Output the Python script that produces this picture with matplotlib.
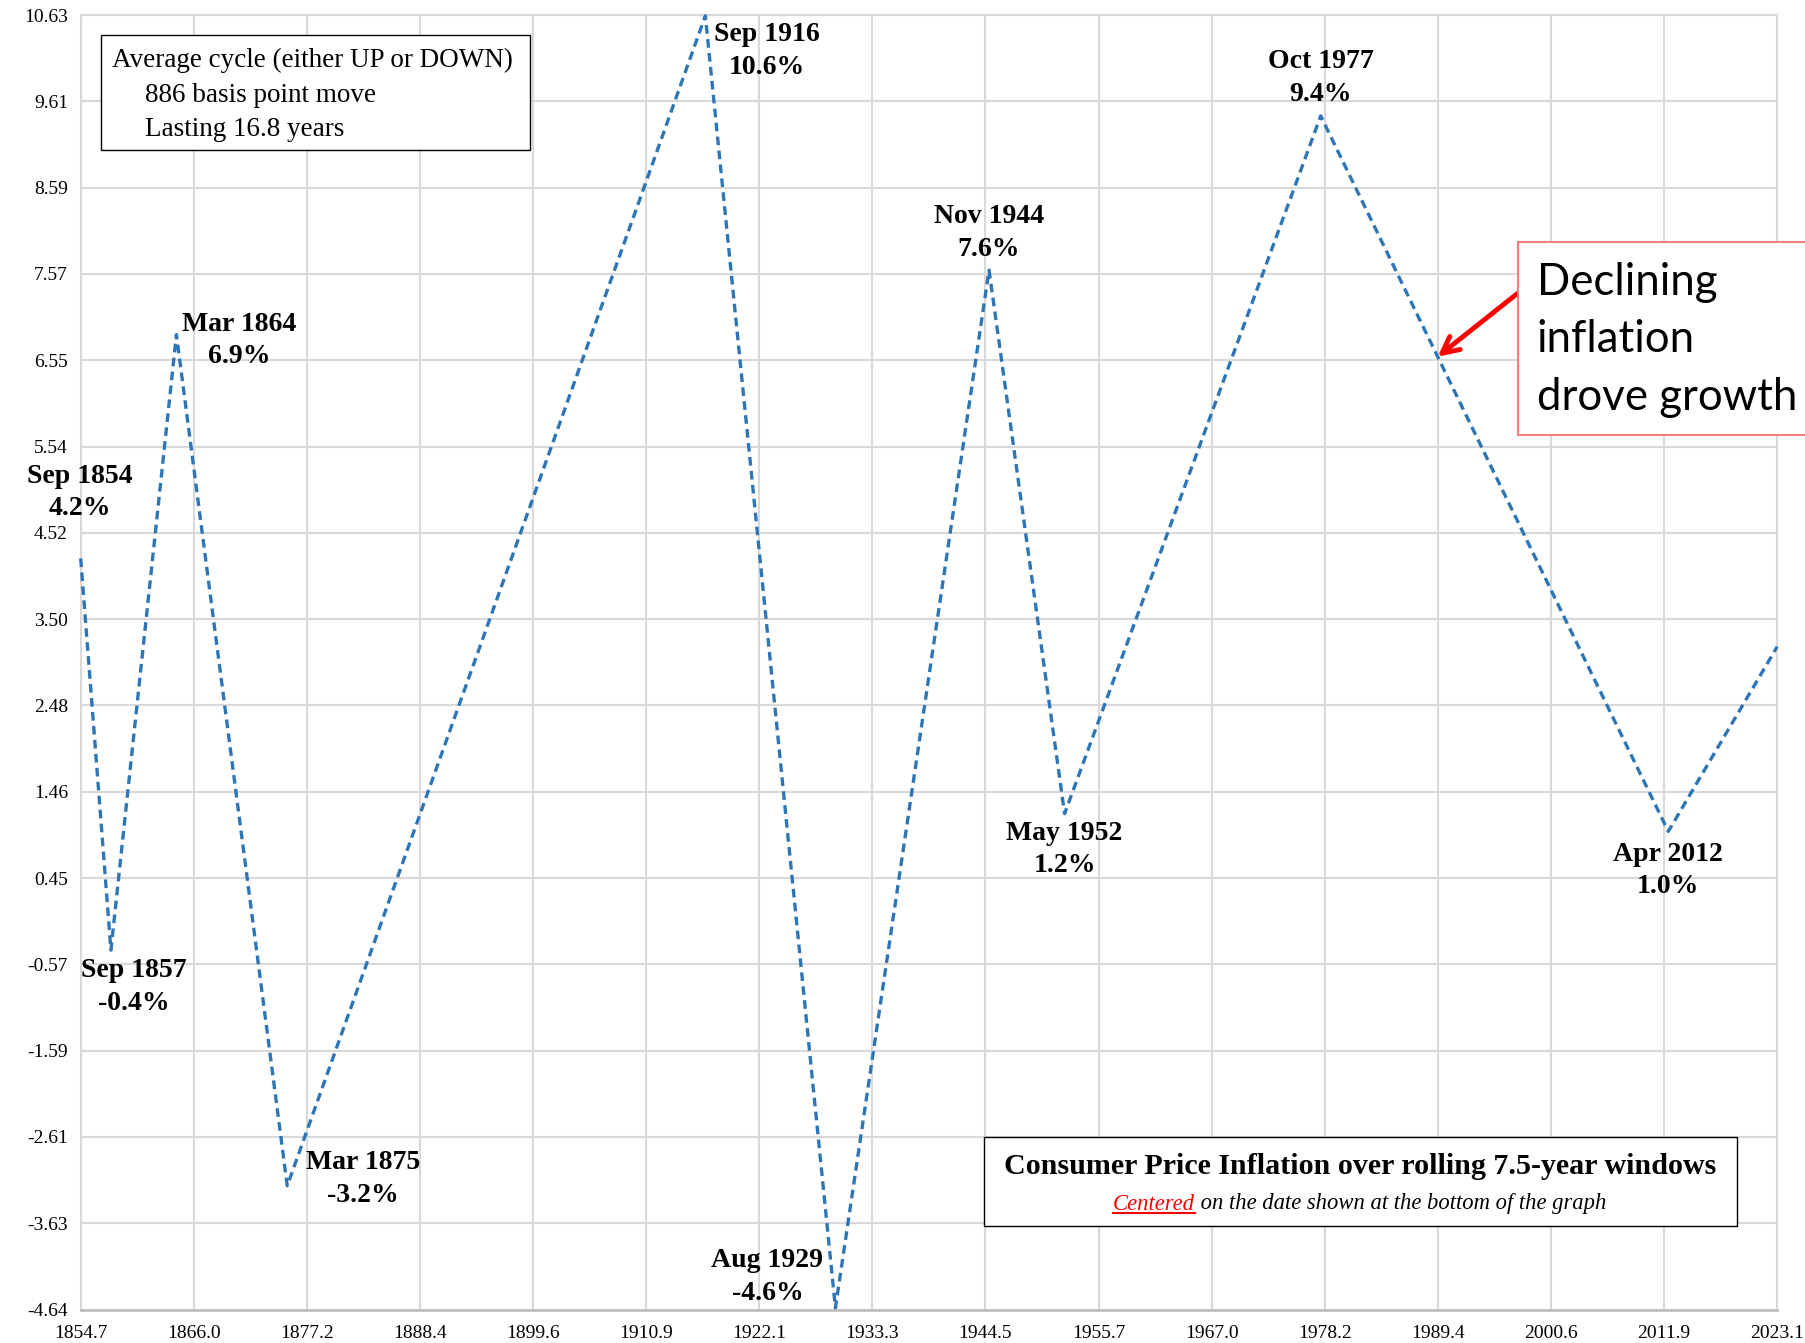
import numpy as np
import matplotlib
matplotlib.use("Agg")
import matplotlib.pyplot as plt
from matplotlib.patches import Rectangle
from matplotlib.lines import Line2D

# ---------------- data ----------------
turn_dates = [1854.71, 1857.71, 1864.21, 1875.21, 1916.71, 1929.62,
              1944.87, 1952.37, 1977.79, 2012.29, 2023.10]
turn_values = [4.22, -0.40, 6.86, -3.18, 10.62, -4.62,
               7.62, 1.21, 9.44, 1.00, 3.18]
turn_names = ["Sep 1854", "Sep 1857", "Mar 1864", "Mar 1875", "Sep 1916",
              "Aug 1929", "Nov 1944", "May 1952", "Oct 1977", "Apr 2012"]
x_tick_labels = ["1854.7", "1866.0", "1877.2", "1888.4", "1899.6", "1910.9",
                 "1922.1", "1933.3", "1944.5", "1955.7", "1967.0", "1978.2",
                 "1989.4", "2000.6", "2011.9", "2023.1"]
y_tick_labels = ["-4.64", "-3.63", "-2.61", "-1.59", "-0.57", "0.45", "1.46",
                 "2.48", "3.50", "4.52", "5.54", "6.55", "7.57", "8.59",
                 "9.61", "10.63"]
x_min, x_max = 1854.7, 2023.1
y_min, y_max = -4.64, 10.63

# label offsets in pixels (dx, dy) relative to each turning point
label_offsets = [(-1, 66), (23, -37), (63, -6), (76, 7), (62, -35),
                 (-68, 31), (0, 37), (0, -36), (0, 38), (0, -39)]

W, H = 1806, 1343
fig = plt.figure(figsize=(W / 100, H / 100), dpi=100)
fx = lambda px: px / W
fy = lambda py: 1 - py / H

L, R, T, B = 80.6, 1777.2, 15.0, 1309.6
ax = fig.add_axes([fx(L), fy(B), (R - L) / W, (B - T) / H])

serif = ["Liberation Serif", "DejaVu Serif"]
sans = ["Lato", "Open Sans", "DejaVu Sans"]

ax.plot(turn_dates, turn_values, color="#2E75B6", lw=2.4,
        linestyle=(0, (2.6, 1.6)), clip_on=False, zorder=3)

ax.set_xlim(x_min, x_max)
ax.set_ylim(y_min, y_max)
ax.set_xticks(np.linspace(x_min, x_max, len(x_tick_labels)))
ax.set_xticklabels(x_tick_labels, fontfamily=serif, fontsize=14)
ax.set_yticks(np.linspace(y_min, y_max, len(y_tick_labels)))
ax.set_yticklabels(y_tick_labels, fontfamily=serif, fontsize=14)
ax.tick_params(axis="both", length=0)
ax.tick_params(axis="x", pad=11)
ax.tick_params(axis="y", pad=9)
ax.grid(True, color="#d9d9d9", lw=1.5, zorder=0)
ax.set_axisbelow(True)
for s in ["left", "right", "top"]:
    ax.spines[s].set_color("#d9d9d9")
    ax.spines[s].set_linewidth(1.5)
ax.spines["bottom"].set_color("#bfbfbf")
ax.spines["bottom"].set_linewidth(2)

for name, xv, yv, (dx, dy) in zip(turn_names, turn_dates, turn_values, label_offsets):
    ax.annotate(f"{name}\n{yv:.1f}%", xy=(xv, yv), xytext=(dx, dy),
                textcoords="offset pixels", ha="center", va="center",
                fontfamily=serif, fontweight="bold", fontsize=20,
                linespacing=1.4, zorder=5, annotation_clip=False)

# --- box 1: average cycle ---
fig.add_artist(Rectangle((fx(101), fy(150)), (530 - 101) / W, (150 - 35) / H,
                         transform=fig.transFigure, facecolor="white",
                         edgecolor="black", lw=1.0, zorder=4))
fig.text(fx(112), fy(60), "Average cycle (either UP or DOWN)", fontfamily=serif,
         fontsize=19.5, va="center", ha="left", zorder=5)
fig.text(fx(145), fy(95), "886 basis point move", fontfamily=serif,
         fontsize=19.5, va="center", ha="left", zorder=5)
fig.text(fx(145), fy(130), "Lasting 16.8 years", fontfamily=serif,
         fontsize=19.5, va="center", ha="left", zorder=5)

# --- box 2: title ---
fig.add_artist(Rectangle((fx(984), fy(1226)), (1737 - 984) / W, (1226 - 1137) / H,
                         transform=fig.transFigure, facecolor="white",
                         edgecolor="black", lw=1.0, zorder=4))
fig.text(fx(1360), fy(1166), "Consumer Price Inflation over rolling 7.5-year windows",
         fontfamily=serif, fontweight="bold", fontsize=21.6, ha="center",
         va="center", zorder=5)
t1 = fig.text(fx(1113), fy(1204), "Centered", fontfamily=serif, fontstyle="italic",
              fontsize=16.3, color="red", ha="left", va="center", zorder=5)
fig.canvas.draw()
r = fig.canvas.get_renderer()
e1 = t1.get_window_extent(r)
t2 = fig.text(e1.x1 / W, fy(1204), " on the date shown at the bottom of the graph",
              fontfamily=serif, fontstyle="italic", fontsize=16.3, color="black",
              ha="left", va="center", zorder=5)
fig.add_artist(Line2D([e1.x0 / W, e1.x1 / W], [(e1.y0 + 2) / H, (e1.y0 + 2) / H],
                      transform=fig.transFigure, color="red", lw=1.5, zorder=5))

# --- box 3: declining inflation callout ---
fig.add_artist(Rectangle((fx(1518), fy(435)), (1810 - 1518) / W, (435 - 242) / H,
                         transform=fig.transFigure, facecolor="white",
                         edgecolor="#f08080", lw=1.5, zorder=4, clip_on=False))
fig.text(fx(1537), fy(340), "Declining\ninflation\ndrove growth", fontfamily=sans,
         fontsize=31.5, ha="left", va="center", linespacing=1.5, zorder=5)
tip_x = 1989.4
tip_y = np.interp(tip_x, turn_dates, turn_values)
ax.annotate("", xy=(tip_x, tip_y), xycoords="data",
            xytext=(fx(1518), fy(293)), textcoords="figure fraction",
            arrowprops=dict(arrowstyle="->", color="red", lw=3.5,
                            mutation_scale=30, shrinkA=0, shrinkB=0),
            zorder=6, annotation_clip=False)

fig.savefig("out.png", dpi=100)
